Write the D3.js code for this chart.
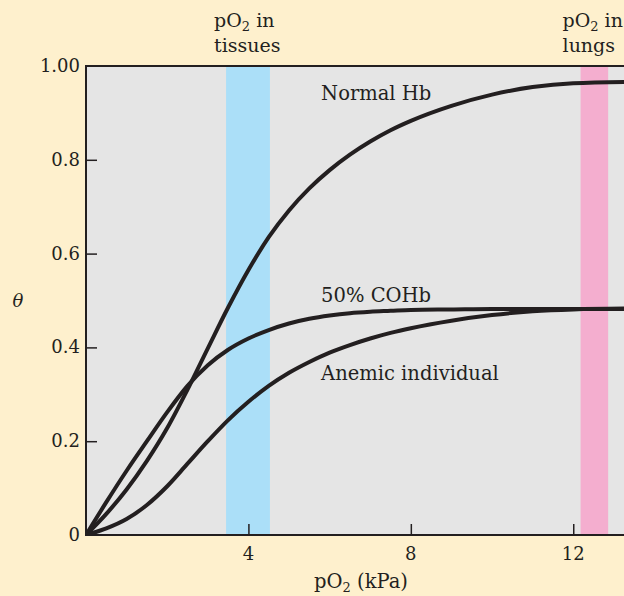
<!DOCTYPE html>
<html>
<head>
<meta charset="utf-8">
<script src="https://cdn.jsdelivr.net/npm/d3@7"></script>
<style>
  body { margin: 0; background: #fef0cd; }
  svg { display: block; font-family: "DejaVu Serif", serif; }
</style>
</head>
<body>
<div id="chart"></div>
<script>
// pO2 in kPa, theta = fractional saturation
const pO2 = [0, 0.5, 1, 1.5, 2, 2.5, 3, 3.5, 4, 4.5, 5, 5.5, 6, 6.5, 7, 7.5, 8, 9, 10, 11, 12, 13.5];
const normalHb = [0, 0.045, 0.097, 0.158, 0.228, 0.31, 0.398, 0.485, 0.565, 0.635, 0.692, 0.739, 0.778, 0.811, 0.839, 0.863, 0.883, 0.915, 0.939, 0.955, 0.963, 0.966];
const coHb = [0, 0.07, 0.137, 0.2, 0.262, 0.318, 0.362, 0.395, 0.419, 0.437, 0.451, 0.461, 0.468, 0.473, 0.476, 0.478, 0.48, 0.481, 0.482, 0.482, 0.482, 0.482];
const anemic = [0, 0.014, 0.034, 0.064, 0.104, 0.152, 0.2, 0.245, 0.284, 0.318, 0.346, 0.369, 0.389, 0.405, 0.419, 0.431, 0.441, 0.457, 0.469, 0.477, 0.481, 0.483];

const curveNames = ["Normal Hb", "50% COHb", "Anemic individual"];
const curveLabelAt = [[5.79, 0.928], [5.79, 0.496], [5.79, 0.33]];

// shaded pO2 ranges (kPa)
const bands = [
    { name: "tissues", from: 3.45, to: 4.53, color: "#abdff8" },
    { name: "lungs", from: 12.18, to: 12.86, color: "#f4aecf" }
];

const xTicks = [4, 8, 12];
const yTicks = [0, 0.2, 0.4, 0.6, 0.8, 1.0];
const yTickLabels = ["0", "0.2", "0.4", "0.6", "0.8", "1.00"];

const width = 624, height = 596;
const margin = { top: 66, right: 0, bottom: 61, left: 86 };
const ink = "#231f20";

const svg = d3.select("#chart")
    .append("svg")
    .attr("width", width)
    .attr("height", height);

svg.append("rect")
    .attr("width", width)
    .attr("height", height)
    .attr("fill", "#fef0cd");

const x = d3.scaleLinear()
    .domain([0, 13.25])
    .range([margin.left, width - margin.right]);

const y = d3.scaleLinear()
    .domain([0, 1])
    .range([height - margin.bottom, margin.top]);

// plot area
svg.append("rect")
    .attr("x", x(0))
    .attr("y", y(1))
    .attr("width", width - x(0))
    .attr("height", y(0) - y(1))
    .attr("fill", "#e5e5e5");

// bands
svg.selectAll("rect.band")
    .data(bands)
    .enter()
    .append("rect")
    .attr("class", "band")
    .attr("x", d => x(d.from))
    .attr("y", y(1))
    .attr("width", d => x(d.to) - x(d.from))
    .attr("height", y(0) - y(1))
    .attr("fill", d => d.color);

// band titles
const bandTitles = svg.selectAll("g.btitle")
    .data(bands)
    .enter()
    .append("g")
    .attr("class", "btitle")
    .attr("transform", d => `translate(${d.name === "tissues" ? x(d.from) - 12 : x(d.from) - 18}, 0)`);

const t1 = bandTitles.append("text")
    .attr("y", 27)
    .attr("font-size", "19px")
    .attr("fill", ink);
t1.append("tspan").text("pO");
t1.append("tspan").attr("font-size", "13px").attr("dy", 4).text("2");
t1.append("tspan").attr("dy", -4).text(" in");

bandTitles.append("text")
    .attr("y", 52)
    .attr("font-size", "19px")
    .attr("fill", ink)
    .text(d => d.name);

// curves
const series = [normalHb, coHb, anemic];
const line = d3.line()
    .x((d, i) => x(pO2[i]))
    .y(d => y(d))
    .curve(d3.curveMonotoneX);

svg.append("clipPath")
    .attr("id", "plotclip")
    .append("rect")
    .attr("x", x(0))
    .attr("y", y(1))
    .attr("width", width - x(0))
    .attr("height", y(0) - y(1));

svg.append("g")
    .attr("clip-path", "url(#plotclip)")
    .selectAll("path")
    .data(series)
    .enter()
    .append("path")
    .attr("fill", "none")
    .attr("stroke", ink)
    .attr("stroke-width", 4)
    .attr("d", line);

// curve labels
svg.selectAll("text.clabel")
    .data(curveNames)
    .enter()
    .append("text")
    .attr("class", "clabel")
    .attr("x", (d, i) => x(curveLabelAt[i][0]))
    .attr("y", (d, i) => y(curveLabelAt[i][1]))
    .attr("font-size", "19.5px")
    .attr("fill", ink)
    .text(d => d);

// axes (ticks pointing inward)
svg.append("g")
    .attr("transform", `translate(0, ${y(0)})`)
    .call(d3.axisTop(x).tickValues(xTicks).tickSize(11).tickFormat(""));

svg.append("g")
    .attr("transform", `translate(${x(0)}, 0)`)
    .call(d3.axisRight(y).tickValues(yTicks.slice(1, 5)).tickSize(11).tickFormat(""));

svg.selectAll(".domain").remove();
svg.selectAll(".tick line").attr("stroke", ink).attr("stroke-width", 1.5);

// frame lines: left, bottom, top
svg.append("path")
    .attr("d", `M${width},${y(1)}H${x(0)}V${y(0)}H${width}`)
    .attr("fill", "none")
    .attr("stroke", ink)
    .attr("stroke-width", 2);

// tick labels
svg.selectAll("text.xtick")
    .data(xTicks)
    .enter()
    .append("text")
    .attr("x", d => x(d))
    .attr("y", y(0) + 25)
    .attr("text-anchor", "middle")
    .attr("font-size", "18px")
    .attr("fill", ink)
    .text(d => d);

svg.selectAll("text.ytick")
    .data(yTicks)
    .enter()
    .append("text")
    .attr("x", x(0) - 6)
    .attr("y", d => y(d))
    .attr("dy", "0.33em")
    .attr("text-anchor", "end")
    .attr("font-size", "18px")
    .attr("fill", ink)
    .text((d, i) => yTickLabels[i]);

// axis titles
const xt = svg.append("text")
    .attr("x", 361)
    .attr("y", 588)
    .attr("text-anchor", "middle")
    .attr("font-size", "19.5px")
    .attr("fill", ink);
xt.append("tspan").text("pO");
xt.append("tspan").attr("font-size", "13px").attr("dy", 4).text("2");
xt.append("tspan").attr("dy", -4).text(" (kPa)");

svg.append("text")
    .attr("x", 18)
    .attr("y", 307)
    .attr("text-anchor", "middle")
    .attr("font-size", "18px")
    .attr("font-style", "italic")
    .attr("fill", ink)
    .text("θ");
</script>
</body>
</html>
